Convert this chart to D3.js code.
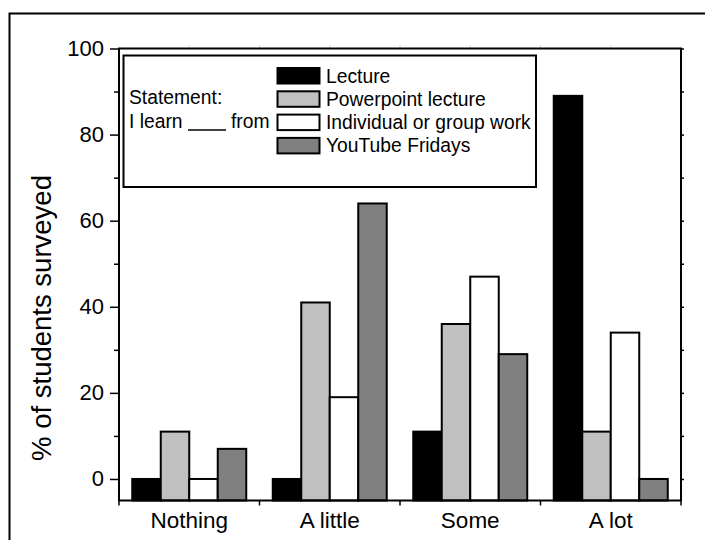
<!DOCTYPE html>
<html>
<head>
<meta charset="utf-8">
<title>Learning survey</title>
<script src="https://d3js.org/d3.v7.min.js"></script>
<style>
  body { margin: 0; background: #fff; }
  text { font-family: "Liberation Sans", Arial, sans-serif; fill: #000; }
</style>
</head>
<body>
<svg width="705" height="540"></svg>
<script>
// data
var categories = ["Nothing", "A little", "Some", "A lot"];
var series = ["Lecture", "Powerpoint lecture", "Individual or group work", "YouTube Fridays"];
var colors = ["#000000", "#c0c0c0", "#ffffff", "#808080"];
var lecture = [0, 0, 11, 89];
var powerpoint = [11, 41, 36, 11];
var groupWork = [0, 19, 47, 34];
var youtube = [7, 64, 29, 0];
var yTicks = [0, 20, 40, 60, 80, 100];
var yMinor = [10, 30, 50, 70, 90];

var values = [lecture, powerpoint, groupWork, youtube];

var svg = d3.select("svg");
var plot = {left: 119, right: 681, top: 48.5, bottom: 500.5};

// outer frame
svg.append("rect")
  .attr("x", 9.5).attr("y", 13.5)
  .attr("width", 720).attr("height", 560)
  .attr("fill", "none").attr("stroke", "#000").attr("stroke-width", 2);

var x0 = d3.scaleBand().domain(categories).range([plot.left, plot.right]);
var x1 = d3.scaleBand().domain(series).range([0, x0.bandwidth()]).paddingOuter(0.465);
var y = d3.scaleLinear().domain([-5, 100]).range([plot.bottom, plot.top]);

// bars
var groups = svg.selectAll(".grp")
  .data(categories)
  .enter().append("g")
  .attr("class", "grp")
  .attr("transform", function (c) { return "translate(" + x0(c) + ",0)"; });

groups.selectAll("rect")
  .data(function (c, i) {
    return series.map(function (s, j) { return {s: s, j: j, v: values[j][i]}; });
  })
  .enter().append("rect")
  .attr("x", function (d) { return x1(d.s); })
  .attr("y", function (d) { return y(d.v); })
  .attr("width", x1.bandwidth())
  .attr("height", function (d) { return y(-5) - y(d.v); })
  .attr("fill", function (d) { return colors[d.j]; })
  .attr("stroke", "#000")
  .attr("stroke-width", 2);

// left axis
var left = svg.append("g").attr("transform", "translate(" + plot.left + ",0)");
left.call(d3.axisLeft(y).tickValues(yTicks).tickSize(9).tickPadding(6));
left.append("g").call(d3.axisLeft(y).tickValues(yMinor).tickSize(5).tickFormat(""));
left.selectAll("text").style("font-size", "22px").attr("dy", "0.3em");

// right axis
var right = svg.append("g").attr("transform", "translate(" + plot.right + ",0)");
right.call(d3.axisRight(y).tickValues(yTicks.concat(yMinor)).tickSize(3).tickFormat(""));

svg.selectAll(".domain").remove();
svg.selectAll(".tick line").attr("stroke", "#000").attr("stroke-width", 1.5);

// top faint ticks
var topTicks = categories.map(function (c) { return x0(c) + x0.bandwidth() / 2; })
  .concat(categories.slice(1).map(function (c) { return x0(c); }));
svg.selectAll(".topTick")
  .data(topTicks)
  .enter().append("line")
  .attr("x1", function (d) { return d; }).attr("x2", function (d) { return d; })
  .attr("y1", plot.top).attr("y2", plot.top - 3)
  .attr("stroke", "#ccc").attr("stroke-width", 1);

// plot frame
svg.append("rect")
  .attr("x", plot.left).attr("y", plot.top)
  .attr("width", plot.right - plot.left).attr("height", plot.bottom - plot.top)
  .attr("fill", "none").attr("stroke", "#000").attr("stroke-width", 2);

// bottom axis: ticks at band edges, labels at centres
var edges = categories.map(function (c) { return x0(c); }).concat([plot.right]);
svg.selectAll(".xTick")
  .data(edges)
  .enter().append("line")
  .attr("x1", function (d) { return d; }).attr("x2", function (d) { return d; })
  .attr("y1", plot.bottom).attr("y2", plot.bottom + 5)
  .attr("stroke", "#000").attr("stroke-width", 1.5);

svg.selectAll(".xLab")
  .data(categories)
  .enter().append("text")
  .attr("x", function (c) { return x0(c) + x0.bandwidth() / 2; })
  .attr("y", 528)
  .attr("text-anchor", "middle")
  .style("font-size", "22.5px")
  .text(function (c) { return c; });

// y title
svg.append("text")
  .attr("transform", "translate(51,318) rotate(-90)")
  .attr("text-anchor", "middle")
  .style("font-size", "27.5px")
  .text("% of students surveyed");

// legend
var lg = svg.append("g");
lg.append("rect")
  .attr("x", 123.5).attr("y", 55.5).attr("width", 412.5).attr("height", 131.5)
  .attr("fill", "#fff").attr("stroke", "#000").attr("stroke-width", 2);

lg.append("text").attr("x", 129).attr("y", 103.5).style("font-size", "19.3px").text("Statement:");
lg.append("text").attr("x", 129).attr("y", 127.5).style("font-size", "19.3px").text("I learn");
lg.append("line").attr("x1", 188).attr("x2", 226).attr("y1", 130).attr("y2", 130)
  .attr("stroke", "#000").attr("stroke-width", 1.5);
lg.append("text").attr("x", 231).attr("y", 127.5).style("font-size", "19.3px").text("from");

var items = lg.selectAll(".item")
  .data(series)
  .enter().append("g")
  .attr("transform", function (d, i) { return "translate(0," + (75.5 + i * 23.3) + ")"; });
items.append("rect")
  .attr("x", 277.5).attr("y", -7.5).attr("width", 42).attr("height", 15.5)
  .attr("fill", function (d, i) { return colors[i]; })
  .attr("stroke", "#000").attr("stroke-width", 2);
items.append("text")
  .attr("x", 326).attr("y", 7)
  .style("font-size", "19.3px")
  .text(function (d) { return d; });
</script>
</body>
</html>
